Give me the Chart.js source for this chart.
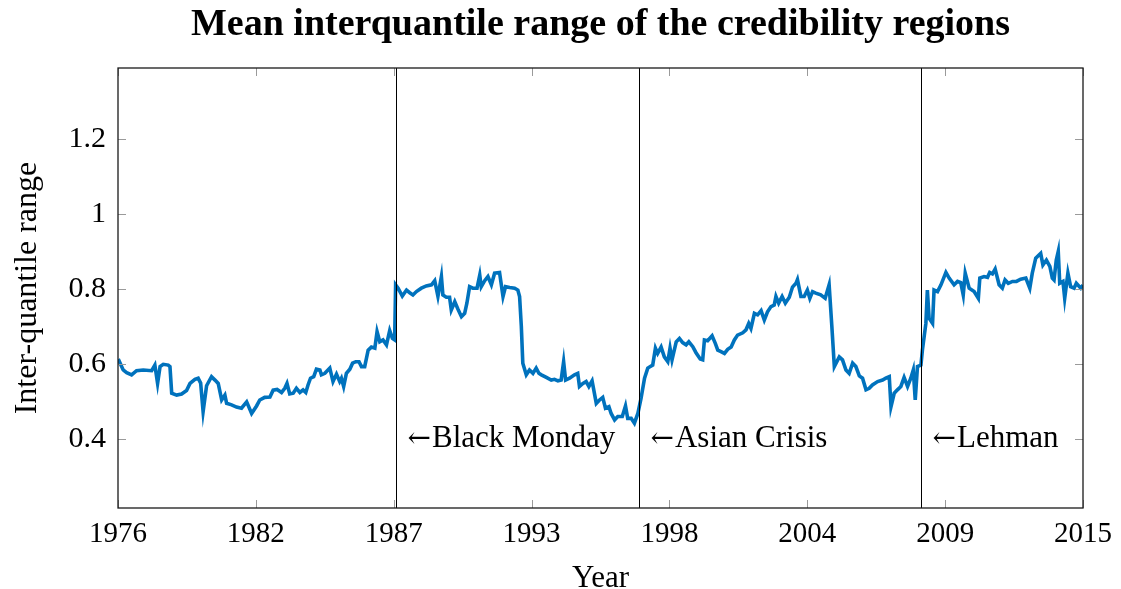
<!DOCTYPE html>
<html>
<head>
<meta charset="utf-8">
<script src="https://cdn.jsdelivr.net/npm/chart.js@4.4.1/dist/chart.umd.min.js"></script>
<style>
  html, body { margin: 0; padding: 0; background: #fff; }
  #wrap { width: 1121px; height: 589px; }
</style>
</head>
<body>
<div id="wrap"><canvas id="iqrChart"></canvas></div>
<script>
// data
const years = [
  1976.01, 1976.21, 1976.35, 1976.55, 1976.75, 1977.02, 1977.36, 1977.49, 1977.60, 1977.70, 1977.83, 1978.03, 1978.10,
  1978.17, 1978.37, 1978.57, 1978.77, 1978.91, 1979.11, 1979.24, 1979.34, 1979.44, 1979.58, 1979.78, 1979.92, 1980.05,
  1980.19, 1980.32, 1980.39, 1980.59, 1980.79, 1980.99, 1981.20, 1981.40, 1981.60, 1981.73, 1981.93, 1982.14, 1982.27,
  1982.43, 1982.61, 1982.74, 1982.83, 1982.94, 1983.08, 1983.21, 1983.35, 1983.48, 1983.59, 1983.68, 1983.78, 1983.91,
  1984.02, 1984.16, 1984.22, 1984.36, 1984.56, 1984.69, 1984.83, 1984.96, 1985.03, 1985.12, 1985.23, 1985.37, 1985.48,
  1985.61, 1985.74, 1985.84, 1985.97, 1986.11, 1986.24, 1986.38, 1986.47, 1986.58, 1986.71, 1986.85, 1986.98, 1987.09,
  1987.18, 1987.22, 1987.32, 1987.49, 1987.66, 1987.79, 1987.92, 1988.06, 1988.26, 1988.46, 1988.67, 1988.80, 1988.93,
  1989.07, 1989.13, 1989.27, 1989.40, 1989.47, 1989.61, 1989.74, 1989.88, 1990.01, 1990.10, 1990.21, 1990.34, 1990.51,
  1990.62, 1990.68, 1990.82, 1990.95, 1991.09, 1991.22, 1991.42, 1991.56, 1991.66, 1991.83, 1992.03, 1992.16, 1992.23,
  1992.30, 1992.36, 1992.50, 1992.63, 1992.77, 1992.90, 1993.01, 1993.11, 1993.31, 1993.51, 1993.64, 1993.78, 1993.91,
  1994.01, 1994.09, 1994.25, 1994.45, 1994.58, 1994.65, 1994.79, 1994.92, 1995.03, 1995.16, 1995.33, 1995.46, 1995.59,
  1995.70, 1995.84, 1995.93, 1996.07, 1996.20, 1996.38, 1996.51, 1996.60, 1996.74, 1996.87, 1997.01, 1997.14, 1997.28,
  1997.41, 1997.61, 1997.72, 1997.81, 1997.95, 1998.08, 1998.22, 1998.31, 1998.39, 1998.56, 1998.69, 1998.82, 1998.96,
  1999.07, 1999.23, 1999.36, 1999.53, 1999.63, 1999.70, 1999.83, 2000.01, 2000.14, 2000.24, 2000.37, 2000.51, 2000.64,
  2000.78, 2000.91, 2001.04, 2001.25, 2001.38, 2001.49, 2001.58, 2001.72, 2001.85, 2001.99, 2002.12, 2002.25, 2002.39,
  2002.52, 2002.59, 2002.70, 2002.84, 2002.97, 2003.13, 2003.26, 2003.40, 2003.46, 2003.60, 2003.73, 2003.86, 2003.96,
  2004.07, 2004.20, 2004.40, 2004.58, 2004.74, 2004.85, 2004.95, 2005.15, 2005.28, 2005.42, 2005.55, 2005.69, 2005.82,
  2005.96, 2006.09, 2006.23, 2006.36, 2006.49, 2006.70, 2006.90, 2007.03, 2007.17, 2007.24, 2007.37, 2007.50, 2007.64,
  2007.77, 2007.91, 2008.04, 2008.14, 2008.22, 2008.31, 2008.45, 2008.51, 2008.65, 2008.71, 2008.78, 2008.92, 2008.98,
  2009.12, 2009.26, 2009.46, 2009.59, 2009.79, 2009.93, 2010.06, 2010.16, 2010.24, 2010.40, 2010.60, 2010.77, 2010.83,
  2011.00, 2011.14, 2011.23, 2011.34, 2011.45, 2011.61, 2011.74, 2011.85, 2011.98, 2012.15, 2012.31, 2012.48, 2012.69,
  2012.85, 2012.95, 2013.09, 2013.29, 2013.38, 2013.52, 2013.66, 2013.76, 2013.83, 2013.92, 2014.00, 2014.06, 2014.19,
  2014.26, 2014.39, 2014.50, 2014.64, 2014.73, 2014.91, 2015.00
];
const iqr = [
  0.613, 0.584, 0.577, 0.571, 0.582, 0.584, 0.582, 0.597, 0.548, 0.593, 0.599, 0.597, 0.593,
  0.522, 0.517, 0.520, 0.529, 0.548, 0.559, 0.562, 0.549, 0.473, 0.542, 0.566, 0.557, 0.548,
  0.504, 0.517, 0.495, 0.491, 0.485, 0.482, 0.499, 0.468, 0.488, 0.504, 0.511, 0.512, 0.530,
  0.532, 0.524, 0.535, 0.548, 0.520, 0.522, 0.535, 0.524, 0.531, 0.524, 0.544, 0.562, 0.566,
  0.586, 0.584, 0.571, 0.575, 0.589, 0.553, 0.573, 0.553, 0.562, 0.540, 0.575, 0.586, 0.602,
  0.606, 0.606, 0.593, 0.593, 0.637, 0.645, 0.642, 0.686, 0.659, 0.664, 0.651, 0.689, 0.668,
  0.664, 0.811, 0.802, 0.781, 0.797, 0.790, 0.784, 0.793, 0.802, 0.808, 0.811, 0.822, 0.780,
  0.833, 0.784, 0.778, 0.778, 0.744, 0.766, 0.746, 0.726, 0.735, 0.762, 0.806, 0.802, 0.802,
  0.837, 0.806, 0.822, 0.833, 0.811, 0.842, 0.844, 0.780, 0.806, 0.804, 0.802, 0.797, 0.780,
  0.700, 0.602, 0.571, 0.584, 0.575, 0.589, 0.575, 0.571, 0.564, 0.557, 0.559, 0.555, 0.557,
  0.606, 0.557, 0.562, 0.571, 0.575, 0.540, 0.548, 0.553, 0.540, 0.555, 0.495, 0.504, 0.511,
  0.482, 0.486, 0.468, 0.451, 0.460, 0.460, 0.488, 0.455, 0.455, 0.442, 0.468, 0.509, 0.562,
  0.589, 0.597, 0.642, 0.628, 0.645, 0.619, 0.606, 0.642, 0.611, 0.659, 0.668, 0.657, 0.651,
  0.659, 0.646, 0.630, 0.613, 0.611, 0.664, 0.662, 0.675, 0.655, 0.637, 0.633, 0.628, 0.639,
  0.645, 0.664, 0.677, 0.683, 0.691, 0.708, 0.695, 0.735, 0.731, 0.742, 0.717, 0.739, 0.753,
  0.757, 0.780, 0.762, 0.780, 0.762, 0.778, 0.805, 0.815, 0.825, 0.780, 0.780, 0.797, 0.775,
  0.793, 0.789, 0.784, 0.775, 0.811, 0.700, 0.593, 0.619, 0.611, 0.584, 0.575, 0.602, 0.593,
  0.568, 0.562, 0.531, 0.535, 0.544, 0.553, 0.557, 0.562, 0.566, 0.486, 0.522, 0.531, 0.540,
  0.564, 0.540, 0.562, 0.584, 0.504, 0.593, 0.597, 0.637, 0.708, 0.797, 0.722, 0.708, 0.797,
  0.793, 0.811, 0.844, 0.829, 0.811, 0.820, 0.817, 0.784, 0.842, 0.802, 0.793, 0.775, 0.829,
  0.833, 0.831, 0.844, 0.840, 0.853, 0.811, 0.802, 0.824, 0.815, 0.820, 0.820, 0.826, 0.829,
  0.802, 0.842, 0.882, 0.895, 0.864, 0.877, 0.860, 0.829, 0.824, 0.877, 0.900, 0.815, 0.820,
  0.775, 0.842, 0.806, 0.802, 0.815, 0.802, 0.810
];

// axis ticks (x ticks split 1976..2015 in 7 equal steps, labels rounded)
const xTickValues = [1976, 1981.571, 1987.143, 1992.714, 1998.286, 2003.857, 2009.429, 2015];
const xTickLabels = ["1976", "1982", "1987", "1993", "1998", "2004", "2009", "2015"];
const yTickValues = [0.4, 0.6, 0.8, 1, 1.2];
const yTickLabels = ["0.4", "0.6", "0.8", "1", "1.2"];

// crisis markers
const eventYears = [1987.22, 1997.07, 2008.46];
const eventLabels = ["\u2190Black Monday", "\u2190Asian Crisis", "\u2190Lehman"];
const eventLabelLevel = 0.4;

const FONT = '"Liberation Serif", "Times New Roman", serif';
Chart.defaults.font.family = FONT;
Chart.defaults.color = '#000';

// box, inward tick marks, event lines and their labels
const pgfFrame = {
  id: 'pgfFrame',
  afterDatasetsDraw(chart) {
    const { ctx, chartArea: a, scales: { x, y } } = chart;
    ctx.save();

    ctx.strokeStyle = '#9a9a9a';
    ctx.lineWidth = 1;
    const tick = 8;
    xTickValues.forEach(v => {
      const px = Math.round(x.getPixelForValue(v)) + 0.5;
      ctx.beginPath();
      ctx.moveTo(px, a.bottom); ctx.lineTo(px, a.bottom - tick);
      ctx.moveTo(px, a.top); ctx.lineTo(px, a.top + tick);
      ctx.stroke();
    });
    yTickValues.forEach(v => {
      const py = Math.round(y.getPixelForValue(v)) + 0.5;
      ctx.beginPath();
      ctx.moveTo(a.left, py); ctx.lineTo(a.left + tick, py);
      ctx.moveTo(a.right, py); ctx.lineTo(a.right - tick, py);
      ctx.stroke();
    });

    ctx.strokeStyle = '#000';
    ctx.fillStyle = '#000';
    ctx.textBaseline = 'middle';
    ctx.textAlign = 'left';
    eventYears.forEach((yr, i) => {
      const px = Math.round(x.getPixelForValue(yr)) + 0.5;
      ctx.beginPath();
      ctx.moveTo(px, a.top); ctx.lineTo(px, a.bottom);
      ctx.stroke();
      // arrow in a font with a wide arrow glyph, rest in the serif face
      const py = y.getPixelForValue(eventLabelLevel);
      const arrow = eventLabels[i].charAt(0);
      ctx.font = '28px "DejaVu Serif"';
      ctx.fillText(arrow, px + 11, py + 1);
      const aw = ctx.measureText(arrow).width;
      ctx.font = '31px ' + FONT;
      ctx.fillText(eventLabels[i].slice(1), px + 11 + aw + 1, py);
    });

    ctx.strokeStyle = '#1a1a1a';
    ctx.lineWidth = 1.3;
    ctx.strokeRect(a.left, a.top, a.right - a.left, a.bottom - a.top);
    ctx.restore();
  }
};

new Chart(document.getElementById("iqrChart"), {
  type: 'line',
  data: {
    datasets: [{
      label: "Mean IQR",
      data: years.map((yr, i) => ({ x: yr, y: iqr[i] })),
      borderColor: "#0072bd",
      borderWidth: 3.6,
      pointRadius: 0,
      fill: false,
      tension: 0
    }]
  },
  options: {
    responsive: true,
    maintainAspectRatio: false,
    animation: false,
    layout: { padding: { left: 0, right: 37, top: 0, bottom: 0 } },
    plugins: {
      legend: { display: false },
      tooltip: { enabled: false },
      title: {
        display: true,
        text: "Mean interquantile range of the credibility regions",
        fullSize: false,
        font: { size: 38, weight: 'bold', lineHeight: 1.2 },
        color: '#000',
        padding: { top: 2, bottom: 20.4 }
      }
    },
    scales: {
      x: {
        type: 'linear',
        min: 1976,
        max: 2015,
        grid: { display: false, drawTicks: false },
        border: { display: false },
        afterBuildTicks: s => { s.ticks = xTickValues.map(v => ({ value: v })); },
        afterFit: s => { s.height = 81; },
        ticks: {
          autoSkip: false,
          maxRotation: 0,
          padding: 9,
          font: { size: 29 },
          callback: (v, i) => xTickLabels[i]
        },
        title: {
          display: true,
          text: "Year",
          font: { size: 31, lineHeight: 1 },
          padding: { top: 0, bottom: -5 }
        }
      },
      y: {
        min: 0.216,
        max: 1.389,
        grid: { display: false, drawTicks: false },
        border: { display: false },
        afterBuildTicks: s => { s.ticks = yTickValues.map(v => ({ value: v })); },
        afterFit: s => { s.width = 118; },
        ticks: {
          autoSkip: false,
          padding: 12,
          font: { size: 30 },
          callback: (v, i) => yTickLabels[i]
        },
        title: {
          display: true,
          text: "Inter-quantile range",
          font: { size: 32, lineHeight: 1 },
          padding: { top: 12, bottom: 0 }
        }
      }
    }
  },
  plugins: [pgfFrame]
});
</script>
</body>
</html>
